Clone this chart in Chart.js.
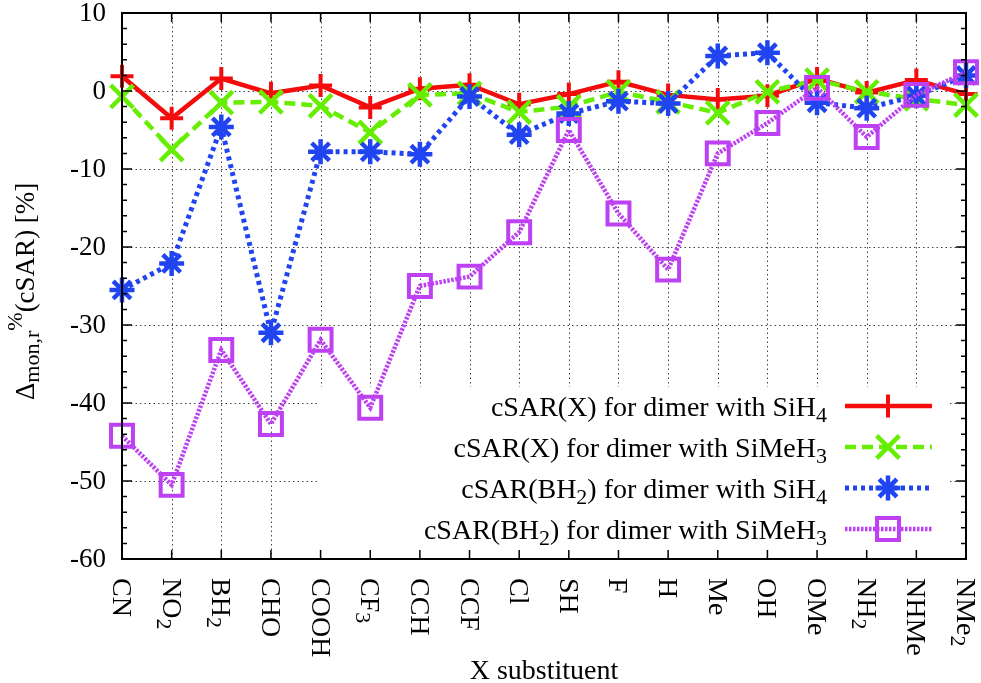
<!DOCTYPE html>
<html>
<head>
<meta charset="utf-8">
<script src="https://cdn.jsdelivr.net/npm/chart.js@4.4.1/dist/chart.umd.min.js"></script>
<style>
  html, body { margin: 0; padding: 0; background: #fff; }
  .vis-container { width: 981px; height: 683px; position: relative; }
</style>
</head>
<body>
<div class="vis-container"><canvas id="vis"></canvas></div>
<script>

// X substituents, '_' marks a subscript
const substituents = ['CN', 'NO_2', 'BH_2', 'CHO', 'COOH', 'CF_3', 'CCH', 'CCF', 'Cl', 'SH',
                      'F', 'H', 'Me', 'OH', 'OMe', 'NH_2', 'NHMe', 'NMe_2'];

// Δ values in %
const cSARX_SiH4     = [1.9, -3.5, 1.6, -0.3, 0.7, -2.1, 0.3, 0.8, -1.7, -0.4, 1.2, -0.5, -1.1, -0.6, 1.6, -0.2, 1.4, -0.4];
const cSARX_SiMeH3   = [-0.7, -7.5, -1.5, -1.4, -1.9, -5.3, -0.5, -0.3, -2.7, -2.0, -0.1, -1.4, -2.8, -0.1, 1.4, -0.1, -1.0, -1.8];
const cSARBH2_SiH4   = [-25.5, -22.1, -4.6, -31.0, -7.8, -7.8, -8.1, -0.7, -5.6, -2.9, -1.3, -1.6, 4.5, 4.9, -1.5, -2.2, -0.6, 2.0];
const cSARBH2_SiMeH3 = [-44.2, -50.5, -33.2, -42.7, -31.9, -40.6, -25.0, -23.8, -18.1, -5.0, -15.7, -22.9, -8.0, -4.1, 0.4, -5.9, -0.5, 2.4];

const seriesLabels = [
    'cSAR(X) for dimer with SiH_4',
    'cSAR(X) for dimer with SiMeH_3',
    'cSAR(BH_2) for dimer with SiH_4',
    'cSAR(BH_2) for dimer with SiMeH_3'
];

const yMin = -60, yMax = 10, yStep = 10, yMinorStep = 2;
const yTitle = 'Δ_{mon,r}^{%}(cSAR) [%]';
const xTitle = 'X substituent';

const serif = '"Liberation Serif", "Times New Roman", serif';
const fontSize = 28;

// split 'NO_2' / 'Δ_{mon,r}^{%}' into normal / sub / sup runs
function parseRich(str) {
    const parts = [];
    let i = 0, buf = '';
    while (i < str.length) {
        const c = str[i];
        if (c == '_' || c == '^') {
            if (buf) { parts.push({ t: buf, k: 'n' }); buf = ''; }
            let t;
            if (str[i + 1] == '{') {
                const end = str.indexOf('}', i);
                t = str.slice(i + 2, end);
                i = end + 1;
            } else {
                t = str[i + 1];
                i += 2;
            }
            parts.push({ t: t, k: c == '_' ? 'sub' : 'sup' });
        } else {
            buf += c;
            i++;
        }
    }
    if (buf) parts.push({ t: buf, k: 'n' });
    return parts;
}

function partFont(k, size) {
    return (k == 'n' ? size : Math.round(size * 0.8)) + 'px ' + serif;
}

function richWidth(ctx, str, size) {
    let w = 0;
    parseRich(str).forEach(p => { ctx.font = partFont(p.k, size); w += ctx.measureText(p.t).width; });
    return w;
}

// draws at current origin, baseline y
function drawRich(ctx, str, x, y, size) {
    ctx.textAlign = 'left';
    ctx.textBaseline = 'alphabetic';
    parseRich(str).forEach(p => {
        ctx.font = partFont(p.k, size);
        let dy = 0;
        if (p.k == 'sub') dy = size * 0.2;
        if (p.k == 'sup') dy = -size * 0.45;
        ctx.fillText(p.t, x, y + dy);
        x += ctx.measureText(p.t).width;
    });
}

function drawMarker(ctx, style, x, y, r) {
    ctx.beginPath();
    if (style == 'cross' || style == 'star') {
        ctx.moveTo(x - r, y); ctx.lineTo(x + r, y);
        ctx.moveTo(x, y - r); ctx.lineTo(x, y + r);
    }
    if (style == 'crossRot' || style == 'star') {
        const d = r * Math.SQRT1_2;
        ctx.moveTo(x - d, y - d); ctx.lineTo(x + d, y + d);
        ctx.moveTo(x - d, y + d); ctx.lineTo(x + d, y - d);
    }
    if (style == 'rect') {
        const s = r * Math.SQRT1_2;
        ctx.rect(x - s, y - s, 2 * s, 2 * s);
    }
    ctx.stroke();
}

const legendBox = { left: 318, right: 948, top: 387 };

const framePlugin = {
    id: 'gnuplotFrame',

    beforeDatasetsDraw(chart) {
        const ctx = chart.ctx;
        const a = chart.chartArea;
        const x = chart.scales.x, y = chart.scales.y;

        ctx.save();
        ctx.strokeStyle = '#444';
        ctx.lineWidth = 1;
        ctx.setLineDash([1.5, 3]);
        ctx.beginPath();
        for (let i = 1; i < substituents.length - 1; i++) {
            const px = Math.round(x.getPixelForValue(i)) + 0.5;
            ctx.moveTo(px, a.top); ctx.lineTo(px, a.bottom);
        }
        y.ticks.forEach(t => {
            if (t.value <= yMin || t.value >= yMax) return;
            const py = Math.round(y.getPixelForValue(t.value)) + 0.5;
            ctx.moveTo(a.left, py); ctx.lineTo(a.right, py);
        });
        ctx.stroke();
        ctx.setLineDash([]);

        // opaque key box
        ctx.fillStyle = '#fff';
        ctx.fillRect(legendBox.left, legendBox.top, legendBox.right - legendBox.left, a.bottom - legendBox.top);
        ctx.restore();
    },

    afterDraw(chart) {
        const ctx = chart.ctx;
        const a = chart.chartArea;
        const x = chart.scales.x, y = chart.scales.y;

        ctx.save();
        ctx.strokeStyle = '#000';
        ctx.fillStyle = '#000';

        // ticks, inward on all four sides
        ctx.lineWidth = 1.5;
        ctx.beginPath();
        for (let i = 1; i < substituents.length - 1; i++) {
            const px = x.getPixelForValue(i);
            ctx.moveTo(px, a.bottom); ctx.lineTo(px, a.bottom - 9);
            ctx.moveTo(px, a.top); ctx.lineTo(px, a.top + 9);
        }
        for (let v = yMin; v <= yMax; v += yMinorStep) {
            const py = y.getPixelForValue(v);
            const len = (v % yStep == 0) ? 10 : 5;
            ctx.moveTo(a.left, py); ctx.lineTo(a.left + len, py);
            ctx.moveTo(a.right, py); ctx.lineTo(a.right - len, py);
        }
        ctx.stroke();

        ctx.lineWidth = 2;
        ctx.strokeRect(a.left, a.top, a.right - a.left, a.bottom - a.top);

        // y tick labels from the scale's own ticks
        ctx.font = '27px ' + serif;
        ctx.textAlign = 'right';
        ctx.textBaseline = 'middle';
        y.ticks.forEach(t => {
            ctx.fillText(String(t.value), a.left - 16, y.getPixelForValue(t.value) + 1);
        });

        // category labels, rotated to read top to bottom
        substituents.forEach((s, i) => {
            ctx.save();
            ctx.translate(x.getPixelForValue(i), a.bottom + 19);
            ctx.rotate(Math.PI / 2);
            drawRich(ctx, s, 0, 9, fontSize);
            ctx.restore();
        });

        // axis titles
        ctx.font = fontSize + 'px ' + serif;
        ctx.textAlign = 'center';
        ctx.textBaseline = 'alphabetic';
        ctx.fillText(xTitle, (a.left + a.right) / 2, 679);

        ctx.save();
        ctx.translate(34, 400);
        ctx.rotate(-Math.PI / 2);
        drawRich(ctx, yTitle, 0, 0, 27);
        ctx.restore();

        // key
        const rows = [406, 447, 488, 529];
        chart.data.datasets.forEach((ds, i) => {
            const cy = rows[i];
            const w = richWidth(ctx, ds.label, fontSize);
            ctx.fillStyle = '#000';
            drawRich(ctx, ds.label, 827 - w, cy + 10, fontSize);

            ctx.strokeStyle = ds.borderColor;
            ctx.lineWidth = ds.borderWidth;
            ctx.setLineDash(ds.borderDash);
            ctx.beginPath();
            ctx.moveTo(845, cy); ctx.lineTo(932, cy);
            ctx.stroke();
            ctx.setLineDash([]);
            ctx.lineWidth = ds.pointBorderWidth;
            drawMarker(ctx, ds.pointStyle, 888, cy, ds.pointRadius);
        });

        ctx.restore();
    }
};

const styles = [
    { color: '#f40c0c', width: 4.5, dash: [],       point: 'cross',    r: 11.5, pw: 4,   order: 3 },
    { color: '#66ee00', width: 4.5, dash: [11, 6],  point: 'crossRot', r: 16,   pw: 4.5, order: 2 },
    { color: '#2044f0', width: 5,   dash: [4, 4],   point: 'star',     r: 12.5, pw: 4.5, order: 1 },
    { color: '#bd40f2', width: 4.5, dash: [2.5, 1.5], point: 'rect',   r: 15.5, pw: 4,   order: 0 }
];

const series = [cSARX_SiH4, cSARX_SiMeH3, cSARBH2_SiH4, cSARBH2_SiMeH3];

const datasets = series.map((values, i) => {
    const s = styles[i];
    return {
        label: seriesLabels[i],
        data: values,
        borderColor: s.color,
        borderWidth: s.width,
        borderDash: s.dash,
        pointStyle: s.point,
        pointRadius: s.r,
        pointBorderWidth: s.pw,
        pointBorderColor: s.color,
        pointBackgroundColor: 'rgba(0,0,0,0)',
        tension: 0,
        clip: false,
        order: s.order
    };
});

const chart = new Chart(document.getElementById('vis'), {
    type: 'line',
    data: { labels: substituents, datasets: datasets },
    options: {
        responsive: true,
        maintainAspectRatio: false,
        animation: false,
        layout: { autoPadding: false, padding: { top: 13, right: 15, left: 0, bottom: 0 } },
        plugins: {
            legend: { display: false },
            title: { display: false },
            tooltip: { enabled: false }
        },
        scales: {
            x: {
                type: 'category',
                offset: false,
                grid: { display: false },
                border: { display: false },
                ticks: { display: false },
                afterFit: scale => { scale.height = 124; }
            },
            y: {
                min: yMin,
                max: yMax,
                grid: { display: false },
                border: { display: false },
                ticks: { display: false, stepSize: yStep },
                afterFit: scale => { scale.width = 122; }
            }
        }
    },
    plugins: [framePlugin]
});

</script>
</body>
</html>
